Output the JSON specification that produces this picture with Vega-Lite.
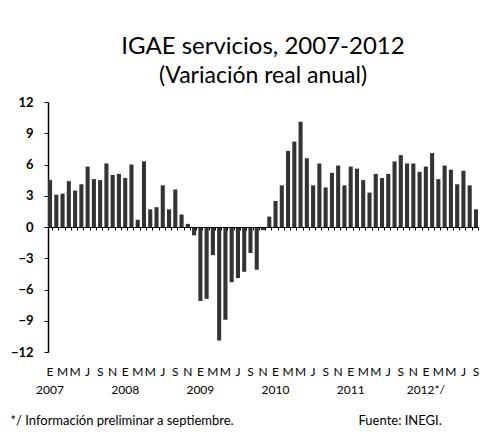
{
  "$schema": "https://vega.github.io/schema/vega-lite/v6.json",
  "width": 430,
  "height": 250,
  "autosize": {"type": "none"},
  "padding": {"left": 48, "top": 102, "right": 16, "bottom": 88},
  "background": "white",
  "config": {
    "font": "Lato",
    "view": {"stroke": null}
  },
  "title": {
    "text": "IGAE servicios, 2007-2012",
    "subtitle": "(Variación real anual)",
    "anchor": "middle",
    "font": "Lato",
    "fontSize": 24,
    "fontWeight": "normal",
    "color": "black",
    "subtitleFont": "Lato",
    "subtitleFontSize": 23,
    "subtitleColor": "black",
    "subtitlePadding": 6,
    "offset": 8
  },
  "data": {
    "values": [
      {"fecha": "2007-01", "valor": 4.5}, {"fecha": "2007-02", "valor": 3.1}, {"fecha": "2007-03", "valor": 3.2},
      {"fecha": "2007-04", "valor": 4.4}, {"fecha": "2007-05", "valor": 3.5}, {"fecha": "2007-06", "valor": 4.1},
      {"fecha": "2007-07", "valor": 5.8}, {"fecha": "2007-08", "valor": 4.6}, {"fecha": "2007-09", "valor": 4.5},
      {"fecha": "2007-10", "valor": 6.1}, {"fecha": "2007-11", "valor": 5.0}, {"fecha": "2007-12", "valor": 5.1},
      {"fecha": "2008-01", "valor": 4.7}, {"fecha": "2008-02", "valor": 6.0}, {"fecha": "2008-03", "valor": 0.7},
      {"fecha": "2008-04", "valor": 6.3}, {"fecha": "2008-05", "valor": 1.7}, {"fecha": "2008-06", "valor": 1.9},
      {"fecha": "2008-07", "valor": 4.0}, {"fecha": "2008-08", "valor": 1.7}, {"fecha": "2008-09", "valor": 3.6},
      {"fecha": "2008-10", "valor": 1.2}, {"fecha": "2008-11", "valor": 0.3}, {"fecha": "2008-12", "valor": -0.8},
      {"fecha": "2009-01", "valor": -7.1}, {"fecha": "2009-02", "valor": -6.9}, {"fecha": "2009-03", "valor": -2.7},
      {"fecha": "2009-04", "valor": -10.9}, {"fecha": "2009-05", "valor": -8.9}, {"fecha": "2009-06", "valor": -5.3},
      {"fecha": "2009-07", "valor": -4.9}, {"fecha": "2009-08", "valor": -4.3}, {"fecha": "2009-09", "valor": -2.5},
      {"fecha": "2009-10", "valor": -4.1}, {"fecha": "2009-11", "valor": -0.3}, {"fecha": "2009-12", "valor": 1.0},
      {"fecha": "2010-01", "valor": 2.5}, {"fecha": "2010-02", "valor": 4.0}, {"fecha": "2010-03", "valor": 7.3},
      {"fecha": "2010-04", "valor": 8.2}, {"fecha": "2010-05", "valor": 10.1}, {"fecha": "2010-06", "valor": 6.6},
      {"fecha": "2010-07", "valor": 4.0}, {"fecha": "2010-08", "valor": 6.1}, {"fecha": "2010-09", "valor": 3.8},
      {"fecha": "2010-10", "valor": 5.2}, {"fecha": "2010-11", "valor": 5.9}, {"fecha": "2010-12", "valor": 4.0},
      {"fecha": "2011-01", "valor": 5.8}, {"fecha": "2011-02", "valor": 5.6}, {"fecha": "2011-03", "valor": 4.5},
      {"fecha": "2011-04", "valor": 3.3}, {"fecha": "2011-05", "valor": 5.1}, {"fecha": "2011-06", "valor": 4.7},
      {"fecha": "2011-07", "valor": 5.1}, {"fecha": "2011-08", "valor": 6.3}, {"fecha": "2011-09", "valor": 6.9},
      {"fecha": "2011-10", "valor": 6.1}, {"fecha": "2011-11", "valor": 6.1}, {"fecha": "2011-12", "valor": 5.3},
      {"fecha": "2012-01", "valor": 5.8}, {"fecha": "2012-02", "valor": 7.1}, {"fecha": "2012-03", "valor": 4.6},
      {"fecha": "2012-04", "valor": 5.9}, {"fecha": "2012-05", "valor": 5.5}, {"fecha": "2012-06", "valor": 4.1},
      {"fecha": "2012-07", "valor": 5.4}, {"fecha": "2012-08", "valor": 4.0}, {"fecha": "2012-09", "valor": 1.7}
    ]
  },
  "resolve": {"axis": {"x": "independent"}},
  "encoding": {
    "y": {
      "field": "valor",
      "type": "quantitative",
      "scale": {"domain": [-12, 12], "nice": false, "zero": false},
      "axis": {
        "values": [-12, -9, -6, -3, 0, 3, 6, 9, 12],
        "labelOverlap": false,
        "grid": false,
        "domainColor": "black",
        "domainWidth": 1.5,
        "tickColor": "black",
        "tickSize": 4,
        "labelPadding": 11,
        "labelFont": "Lato",
        "labelFontSize": 13,
        "labelFontWeight": "bold",
        "labelColor": "black",
        "title": "Fuente: INEGI.",
        "titleAngle": 0,
        "titleX": 310,
        "titleY": 322,
        "titleAlign": "left",
        "titleBaseline": "alphabetic",
        "titleFont": "Lato",
        "titleFontSize": 13,
        "titleFontWeight": "normal",
        "titleColor": "black"
      }
    }
  },
  "layer": [
    {
      "mark": {"type": "bar", "color": "#333333"},
      "encoding": {
        "x": {
          "field": "fecha",
          "type": "ordinal",
          "scale": {"paddingInner": 0.35, "paddingOuter": 0},
          "axis": {
            "orient": "bottom",
            "offset": -125,
            "labels": false,
            "title": null,
            "ticks": true,
            "tickBand": "extent",
            "tickSize": 3,
            "tickColor": "black",
            "domain": true,
            "domainColor": "black",
            "domainWidth": 1.2,
            "zindex": 1
          }
        }
      }
    },
    {
      "mark": {"type": "bar", "opacity": 0},
      "encoding": {
        "x": {
          "field": "fecha",
          "type": "ordinal",
          "axis": {
            "orient": "bottom",
            "offset": 0,
            "domain": false,
            "ticks": false,
            "labelAngle": 0,
            "labelOverlap": false,
            "labelPadding": 14,
            "labelLineHeight": 18,
            "labelFont": "Lato",
            "labelFontSize": 12,
            "labelColor": "black",
            "labelExpr": "toNumber(substring(datum.value,5,7)) % 2 == 1 ? (substring(datum.value,5,7) == '01' ? ['E', substring(datum.value,0,4) == '2012' ? '2012*/' : substring(datum.value,0,4)] : ['E','F','M','A','M','J','J','A','S','O','N','D'][toNumber(substring(datum.value,5,7)) - 1]) : ''",
            "title": "*/ Información preliminar a septiembre.",
            "titleAnchor": "start",
            "titleAlign": "left",
            "titleX": -38,
            "titleY": 72,
            "titleBaseline": "alphabetic",
            "titleFont": "Lato",
            "titleFontSize": 13,
            "titleFontWeight": "normal",
            "titleColor": "black"
          }
        }
      }
    }
  ]
}
